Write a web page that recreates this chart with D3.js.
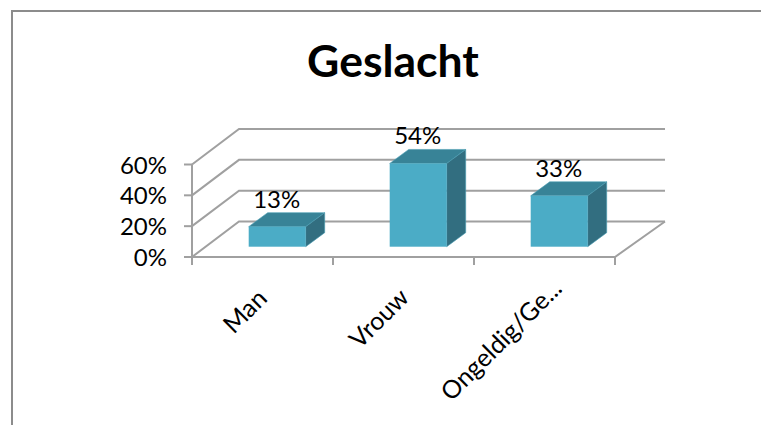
<!DOCTYPE html>
<html>
<head>
<meta charset="utf-8">
<script src="https://cdn.jsdelivr.net/npm/d3@7"></script>
<style>
  html, body { margin: 0; padding: 0; background: #fff; }
  svg { display: block; }
  text { font-family: Lato, "Open Sans", sans-serif; fill: #000; }
</style>
</head>
<body>
<div class="svg_container"></div>
<script>
var categories = ["Man", "Vrouw", "Ongeldig/Ge..."];
var percentages = [13, 54, 33];
var yTicks = [0, 20, 40, 60];

var width = 761, height = 425;

// wall offset and bar depth of the fake 3d
var wall = {dx: 47, dy: -35.5};
var depth = {dx: 19, dy: -14};

// where each rotated label ends, relative to the band centre
var labelEnds = [{dx: 6, y: 300}, {dx: 7, y: 299}, {dx: 19, y: 290}];

var svg = d3.select(".svg_container").append("svg")
    .attr("width", width)
    .attr("height", height);

// frame of the chart, cropped at right and bottom
svg.append("path")
  .attr("d", "M12,425V11H761")
  .attr("fill", "none")
  .attr("stroke", "#8c8c8c")
  .attr("stroke-width", 2);

svg.append("text")
  .attr("x", 393)
  .attr("y", 77)
  .attr("text-anchor", "middle")
  .attr("font-size", 44.5)
  .attr("font-weight", "bold")
  .text("Geslacht");

var xScale = d3.scaleBand()
  .domain(categories)
  .range([192, 615])
  .paddingInner(0)
  .paddingOuter(0);

var yScale = d3.scaleLinear()
  .domain([0, 60])
  .range([257, 164.5]);

var grey = "#a0a0a0";
var lineW = 2;

// gridlines: side wall + back wall
svg.selectAll(".grid")
  .data(yTicks)
  .enter()
  .append("path")
    .attr("class", "grid")
    .attr("fill", "none")
    .attr("stroke", grey)
    .attr("stroke-width", lineW)
    .attr("d", function(d) {
      var y = yScale(d);
      return "M192," + y + "L" + (192 + wall.dx) + "," + (y + wall.dy) + "H" + (615 + wall.dx + 3);
    });

// floor right edge and front edge
svg.append("path")
  .attr("fill", "none")
  .attr("stroke", grey)
  .attr("stroke-width", lineW)
  .attr("d", "M" + 192 + "," + yScale(0) + "H615L" + (615 + wall.dx + 3) + "," + (yScale(0) + wall.dy));

// y axis line
svg.append("line")
  .attr("x1", 192).attr("x2", 192)
  .attr("y1", yScale(60)).attr("y2", yScale(0) + 6)
  .attr("stroke", grey)
  .attr("stroke-width", lineW);

// y ticks and labels
svg.selectAll(".ytick")
  .data(yTicks)
  .enter()
  .append("line")
    .attr("class", "ytick")
    .attr("x1", 184).attr("x2", 192)
    .attr("y1", function(d) { return yScale(d); })
    .attr("y2", function(d) { return yScale(d); })
    .attr("stroke", grey)
    .attr("stroke-width", lineW);

svg.selectAll(".ylabel")
  .data(yTicks)
  .enter()
  .append("text")
    .attr("class", "ylabel")
    .attr("x", 167)
    .attr("y", function(d) { return yScale(d) + 9; })
    .attr("text-anchor", "end")
    .attr("font-size", 24)
    .text(function(d) { return d + "%"; });

// x ticks on the band edges
svg.selectAll(".xtick")
  .data(categories.concat(["end"]))
  .enter()
  .append("line")
    .attr("class", "xtick")
    .attr("x1", function(d, i) { return 192 + i * xScale.step(); })
    .attr("x2", function(d, i) { return 192 + i * xScale.step(); })
    .attr("y1", yScale(0))
    .attr("y2", yScale(0) + 8)
    .attr("stroke", grey)
    .attr("stroke-width", lineW);

// bars
var barW = 57;
var barBottom = yScale(0) - 10.3;

var bars = svg.selectAll(".bar")
  .data(percentages)
  .enter()
  .append("g")
    .attr("class", "bar");

function barLeft(i) {
  return xScale(categories[i]) + xScale.bandwidth() / 2 - barW / 2 + 14.7;
}
function barTop(d) {
  return barBottom - (yScale(0) - yScale(d));
}

// top face
bars.append("path")
  .attr("fill", "#388397")
  .attr("stroke", "#4a9db4")
  .attr("stroke-width", 0.6)
  .attr("d", function(d, i) {
    var x = barLeft(i), y = barTop(d);
    return "M" + x + "," + y + "l" + depth.dx + "," + depth.dy + "h" + barW + "l" + (-depth.dx) + "," + (-depth.dy) + "z";
  });

// side face
bars.append("path")
  .attr("fill", "#326e80")
  .attr("stroke", "#4a9db4")
  .attr("stroke-width", 0.6)
  .attr("d", function(d, i) {
    var x = barLeft(i) + barW, y = barTop(d);
    return "M" + x + "," + y + "l" + depth.dx + "," + depth.dy + "V" + (barBottom + depth.dy) + "L" + x + "," + barBottom + "z";
  });

// front face
bars.append("rect")
  .attr("fill", "#4bacc6")
  .attr("x", function(d, i) { return barLeft(i); })
  .attr("y", function(d) { return barTop(d); })
  .attr("width", barW)
  .attr("height", function(d) { return barBottom - barTop(d); });

bars.append("text")
  .attr("x", function(d, i) { return barLeft(i) + barW / 2 - 0.5; })
  .attr("y", function(d) { return barTop(d) + depth.dy - 5; })
  .attr("text-anchor", "middle")
  .attr("font-size", 24)
  .text(function(d) { return d + "%"; });

// rotated category labels, anchored at the end
svg.selectAll(".xlabel")
  .data(categories)
  .enter()
  .append("text")
    .attr("class", "xlabel")
    .attr("text-anchor", "end")
    .attr("font-size", 25)
    .attr("transform", function(d, i) {
      return "translate(" + (xScale(d) + xScale.bandwidth() / 2 + labelEnds[i].dx) + "," + labelEnds[i].y + ") rotate(-45)";
    })
    .text(function(d) { return d; });
</script>
</body>
</html>
